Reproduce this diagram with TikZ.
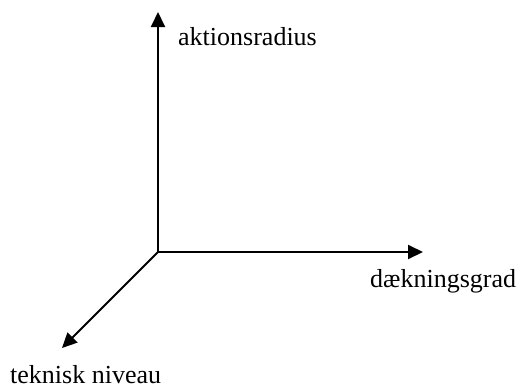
\documentclass[tikz,border=0pt]{standalone}
\usepackage{fontspec}
\setmainfont{Liberation Serif}
\usetikzlibrary{arrows.meta}
\tikzset{
  axis/.style={line width=2pt,-{Triangle[length=15pt,width=14pt]}},
  lbl/.style={inner sep=0pt,anchor=base west,font=\fontsize{26}{30}\selectfont}
}
\begin{document}
\begin{tikzpicture}[x=1pt,y=-1pt]
\useasboundingbox (0,0) rectangle (520,386);
\coordinate (o) at (158,252);
\coordinate (up) at (158,12);
\coordinate (right) at (423,252);
\coordinate (diag) at (62,348);
\draw[axis] (o) -- (up);
\draw[axis] (o) -- (right);
\draw[axis] (o) -- (diag);
\node[lbl] (a) at (178,45) {aktionsradius};
\node[lbl] (d) at (370,287) {dækningsgrad};
\node[lbl] (t) at (10,383) {teknisk niveau};
\end{tikzpicture}
\end{document}
